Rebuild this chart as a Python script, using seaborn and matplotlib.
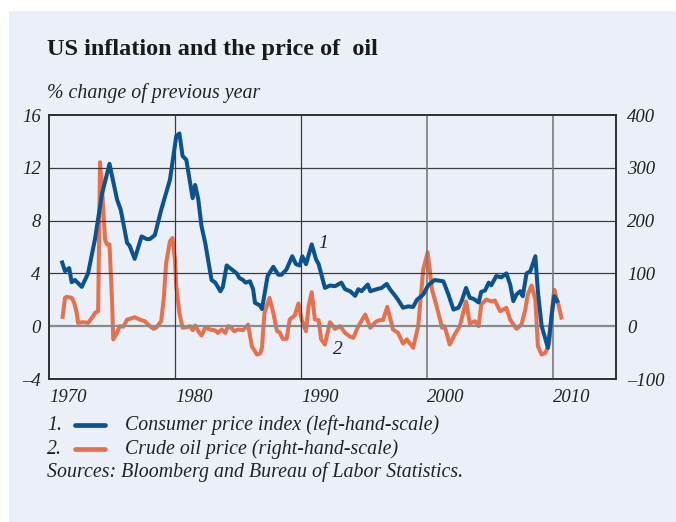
import numpy as np
import pandas as pd
import matplotlib
matplotlib.use("Agg")
import matplotlib.pyplot as plt
from matplotlib.patches import Rectangle
from matplotlib.lines import Line2D
import seaborn as sns

# ---- data ----
cpi_year = [1971.0, 1971.27, 1971.6, 1971.8, 1972.06, 1972.6, 1973.1, 1973.65, 1974.2, 1974.8,
            1975.4, 1975.7, 1976.2, 1976.4, 1976.8, 1977.35, 1977.75, 1978.0, 1978.4, 1978.9,
            1979.6, 1980.1, 1980.35, 1980.6, 1980.9, 1981.4, 1981.6, 1981.85, 1982.1, 1982.4,
            1982.9, 1983.2, 1983.6, 1983.8, 1984.1, 1984.5, 1984.9, 1985.1, 1985.4, 1985.6,
            1985.95, 1986.2, 1986.35, 1986.75, 1986.9, 1987.1, 1987.35, 1987.8, 1988.2, 1988.45,
            1988.85, 1989.3, 1989.6, 1989.9, 1990.1, 1990.4, 1990.85, 1991.2, 1991.4, 1991.9,
            1992.3, 1992.7, 1993.2, 1993.5, 1993.9, 1994.3, 1994.55, 1994.8, 1995.3, 1995.5,
            1996.0, 1996.4, 1996.8, 1997.06, 1997.5, 1997.7, 1998.1, 1998.5, 1998.9, 1999.2,
            1999.7, 2000.1, 2000.6, 2001.3, 2001.7, 2002.1, 2002.5, 2002.75, 2003.1, 2003.4,
            2003.7, 2004.1, 2004.3, 2004.6, 2004.9, 2005.1, 2005.5, 2005.9, 2006.3, 2006.6,
            2006.85, 2007.1, 2007.4, 2007.6, 2007.9, 2008.2, 2008.6, 2008.8, 2009.1, 2009.6,
            2009.9, 2010.1, 2010.4]
cpi_value = [4.97, 4.17, 4.4, 3.33, 3.5, 2.98, 4.0, 6.6, 10.0, 12.3,
             9.6, 8.8, 6.3, 6.1, 5.1, 6.8, 6.6, 6.6, 6.9, 8.8,
             11.1, 14.4, 14.6, 12.9, 12.6, 9.7, 10.7, 9.6, 7.6, 6.3,
             3.5, 3.3, 2.65, 2.98, 4.6, 4.3, 4.0, 3.66, 3.5, 3.3,
             3.4, 2.8, 1.77, 1.57, 1.3, 2.4, 3.8, 4.5, 3.9, 3.9,
             4.3, 5.3, 4.7, 4.6, 5.3, 4.7, 6.2, 5.05, 4.7, 2.9,
             3.08, 3.03, 3.3, 2.8, 2.65, 2.3, 2.8, 2.65, 3.16, 2.65,
             2.8, 2.9, 3.2, 2.8, 2.27, 2.0, 1.4, 1.5, 1.46, 2.0,
             2.4, 3.1, 3.5, 3.4, 2.4, 1.26, 1.4, 1.9, 2.9, 2.15,
             2.07, 1.8, 2.6, 2.7, 3.3, 3.1, 3.8, 3.7, 4.0, 3.16,
             1.9, 2.4, 2.65, 2.27, 4.0, 4.17, 5.3, 2.65, 0.0, -1.64,
             0.88, 2.27, 1.77]

oil_year = [1971.06, 1971.27, 1971.4, 1971.8, 1972.0, 1972.2, 1972.3, 1972.7, 1973.1, 1973.5,
            1973.65, 1973.9, 1974.05, 1974.2, 1974.45, 1974.6, 1974.8, 1975.0, 1975.1, 1975.4,
            1975.6, 1975.9, 1976.2, 1976.4, 1976.8, 1977.2, 1977.6, 1978.0, 1978.3, 1978.5,
            1978.9, 1979.1, 1979.3, 1979.6, 1979.8, 1980.0, 1980.1, 1980.35, 1980.6, 1980.9,
            1981.2, 1981.4, 1981.6, 1981.85, 1982.1, 1982.4, 1982.8, 1983.2, 1983.4, 1983.7,
            1984.0, 1984.2, 1984.4, 1984.7, 1985.0, 1985.4, 1985.8, 1986.1, 1986.5, 1986.75,
            1986.9, 1987.1, 1987.5, 1987.8, 1988.1, 1988.3, 1988.55, 1988.86, 1989.1, 1989.5,
            1989.8, 1990.05, 1990.4, 1990.6, 1990.85, 1991.1, 1991.4, 1991.6, 1991.9, 1992.3,
            1992.7, 1993.1, 1993.5, 1993.9, 1994.15, 1994.55, 1995.1, 1995.5, 1995.9, 1996.2,
            1996.5, 1996.85, 1997.3, 1997.7, 1998.1, 1998.4, 1998.9, 1999.3, 1999.7, 2000.05,
            2000.4, 2000.8, 2001.2, 2001.4, 2001.8, 2002.2, 2002.6, 2003.1, 2003.4, 2003.8,
            2004.1, 2004.3, 2004.7, 2005.1, 2005.4, 2005.8, 2006.3, 2006.6, 2007.1, 2007.5,
            2007.8, 2008.0, 2008.3, 2008.6, 2008.8, 2009.1, 2009.4, 2009.7, 2010.0, 2010.1,
            2010.4, 2010.7]
oil_value = [13.9, 53.7, 55.6, 53.7, 44.2, 25.3, 6.3, 7.6, 6.3, 18.9,
             25.3, 28.4, 310.6, 265, 164, 155, 155, 50.5, -25, -12.6,
             0, -1, 12.6, 13.9, 17, 12.6, 9.5, 0, -5, -3,
             9.5, 50.5, 120, 161, 167, 126, 75.8, 25, -3, -2,
             0, -7.6, 1.3, -9.5, -17.7, -3, -6.3, -8.2, -12.6, -6.3,
             -12.6, 0, -1, -9.5, -6.3, -7.6, 3, -38, -53.7, -51.8,
             -41, 25.3, 53.7, 25.3, -9.5, -11.4, -24, -24, 12.6, 20.2,
             43, 12.6, -9.5, 37.9, 64.4, 12.6, 11.4, -25, -34.7, 7.6,
             -5, 0, -12.6, -20, -22, 0, 22, -3, 7.6, 11.4,
             11.4, 36.6, -6.3, -12.6, -32.8, -25, -41, 0, 107, 140,
             69, 34.7, -3, 0, -34.7, -15.8, 0, 47, 5, 9.5,
             0, 41, 50.5, 47, 48.6, 28.4, 34.7, 12.6, -5, 3,
             31.6, 60, 77, 50.5, -38, -53.7, -50.5, -31.6, 50.5, 69,
             44, 12.6]

x_ticks = [1970, 1980, 1990, 2000, 2010]
x_minor = [1975, 1985, 1995, 2005]
left_ticks = [-4, 0, 4, 8, 12, 16]
right_ticks = [-100, 0, 100, 200, 300, 400]

title = "US inflation and the price of  oil"
subtitle = "% change of previous year"
legend_labels = ["Consumer price index (left-hand-scale)", "Crude oil price (right-hand-scale)"]
source = "Sources: Bloomberg and Bureau of Labor Statistics."

# ---- styling ----
BLUE = "#0B5290"
ORANGE = "#E8714D"
PANEL = "#EBF0F8"
DARK = "#2f2f2f"
SERIF = ["Liberation Serif", "DejaVu Serif"]

sns.set_theme(style="white")
plt.rcParams["font.family"] = SERIF
plt.rcParams["axes.unicode_minus"] = False

W, H = 676, 522
fig = plt.figure(figsize=(W / 100, H / 100), dpi=100, facecolor="white")
fig.patches.append(Rectangle((9 / W, 0), 1 - 9 / W, (H - 11) / H, transform=fig.transFigure,
                             facecolor=PANEL, edgecolor="none", zorder=-10))

ax = fig.add_axes([49 / W, 1 - 379 / H, (616 - 49) / W, (379 - 115) / H])
ax2 = ax.twinx()
ax.set_zorder(2)
ax2.set_zorder(1)
ax.patch.set_visible(False)
ax2.patch.set_visible(False)

cpi_df = pd.DataFrame({"year": cpi_year, "value": cpi_value})
oil_df = pd.DataFrame({"year": oil_year, "value": oil_value})

sns.lineplot(data=cpi_df, x="year", y="value", ax=ax, color=BLUE, lw=2.9, zorder=5,
             solid_joinstyle="round", solid_capstyle="butt")
sns.lineplot(data=oil_df, x="year", y="value", ax=ax2, color=ORANGE, lw=2.9, zorder=5,
             solid_joinstyle="round", solid_capstyle="butt")

ax.set_xlim(1970, 2015)
ax.set_ylim(-4, 16)
ax2.set_ylim(-100, 400)
ax.set_xlabel("")
ax.set_ylabel("")
ax2.set_ylabel("")

def dash(v):
    return str(v).replace("-", "\u2013")

ax.set_yticks(left_ticks, labels=[dash(v) for v in left_ticks])
ax2.set_yticks(right_ticks, labels=[dash(v) for v in right_ticks])
ax.set_xticks(x_ticks, labels=[str(v) for v in x_ticks])
ax.set_xticks(x_minor, minor=True)

for lab in ax.get_yticklabels() + ax2.get_yticklabels() + ax.get_xticklabels():
    lab.set_fontfamily(SERIF)
    lab.set_fontstyle("italic")
    lab.set_fontsize(13.5)
    lab.set_color("#222222")
for lab in ax.get_xticklabels():
    lab.set_horizontalalignment("left")

ax.tick_params(axis="y", length=0, pad=6)
ax2.tick_params(axis="y", length=0, pad=8)
ax.tick_params(axis="x", which="both", direction="in", length=4, width=1, color=DARK, pad=7)

# grid
for y in [4, 8, 12]:
    ax.axhline(y, color="#3c3c3c", lw=0.9, zorder=1)
ax.axhline(0, color="#8a8a8a", lw=1.6, zorder=1)
for x in [1980, 1990]:
    ax.axvline(x, color="#3c3c3c", lw=0.9, zorder=1)
for x in [2000, 2010]:
    ax.axvline(x, color="#7a7a7a", lw=1.2, zorder=1)

for a in (ax, ax2):
    for s in a.spines.values():
        s.set_color(DARK)
        s.set_linewidth(1.2)

# in-chart series labels
ax.text(1991.75, 6.3, "1", fontstyle="italic", fontsize=14, ha="center", va="center", color="#222222")
ax.text(1992.9, -1.8, "2", fontstyle="italic", fontsize=14, ha="center", va="center", color="#222222")

# titles
fig.text(47 / W, 1 - 50 / H, title, fontsize=17.5, fontweight="bold", ha="left", va="center", color="#1a1a1a")
fig.text(47 / W, 1 - 93 / H, subtitle, fontsize=14.3, fontstyle="italic", ha="left", va="center", color="#222222")

# legend
for i, (lab, col) in enumerate(zip(legend_labels, [BLUE, ORANGE])):
    yy = 1 - (425 + 24 * i) / H
    fig.text(47 / W, yy, f"{i + 1}.", fontsize=14.3, fontstyle="italic", ha="left", va="center", color="#222222")
    fig.lines.append(Line2D([75 / W, 105 / W], [yy, yy], transform=fig.transFigure, color=col, lw=3.4))
    fig.text(125 / W, yy, lab, fontsize=14.3, fontstyle="italic", ha="left", va="center", color="#222222")

fig.text(47 / W, 1 - 472 / H, source, fontsize=14.3, fontstyle="italic", ha="left", va="center", color="#222222")

fig.savefig("out.png", dpi=100, facecolor="white")
